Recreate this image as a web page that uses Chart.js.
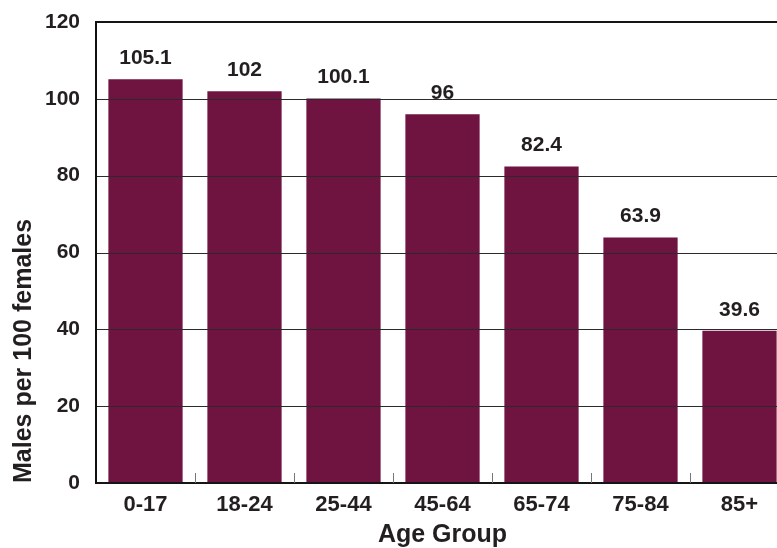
<!DOCTYPE html>
<html>
<head>
<meta charset="utf-8">
<script src="https://cdn.jsdelivr.net/npm/chart.js@4/dist/chart.umd.min.js"></script>
<style>
  html, body { margin: 0; padding: 0; background: #fff; overflow: hidden; }
  #wrap { width: 777px; height: 548px; overflow: hidden; }
</style>
</head>
<body>
<div id="wrap"><canvas id="c" width="789" height="548"></canvas></div>
<script>
const categories = ['0-17', '18-24', '25-44', '45-64', '65-74', '75-84', '85+'];
const malesPer100Females = [105.1, 102, 100.1, 96, 82.4, 63.9, 39.6];
const yTicks = [0, 20, 40, 60, 80, 100, 120];
const xTitle = 'Age Group';
const yTitle = 'Males per 100 females';

const FONT = '"Liberation Sans", Arial, Helvetica, sans-serif';

const overlay = {
  id: 'overlay',
  afterDatasetsDraw(chart) {
    const ctx = chart.ctx;
    const area = chart.chartArea;
    const ys = chart.scales.y;
    const xs = chart.scales.x;
    ctx.save();
    // gridlines over the bars
    yTicks.forEach(v => {
      const y = Math.round(ys.getPixelForValue(v));
      ctx.beginPath();
      if (v === 120 || v === 0) {
        ctx.lineWidth = 2;
        ctx.strokeStyle = '#151515';
        ctx.moveTo(area.left, y);
        ctx.lineTo(area.right, y);
      } else {
        ctx.lineWidth = 1;
        ctx.strokeStyle = '#2a2a2a';
        ctx.moveTo(area.left, y + 0.5);
        ctx.lineTo(area.right, y + 0.5);
      }
      ctx.stroke();
    });
    // left axis line
    ctx.beginPath();
    ctx.lineWidth = 2;
    ctx.strokeStyle = '#111';
    ctx.moveTo(area.left, area.top - 1);
    ctx.lineTo(area.left, area.bottom + 1);
    ctx.stroke();
    // small inner tick marks between categories
    ctx.lineWidth = 1;
    ctx.strokeStyle = '#777';
    for (let i = 0; i < categories.length - 1; i++) {
      const x = Math.round((xs.getPixelForValue(i) + xs.getPixelForValue(i + 1)) / 2) + 0.5;
      ctx.beginPath();
      ctx.moveTo(x, area.bottom);
      ctx.lineTo(x, area.bottom - 10);
      ctx.stroke();
    }
    // value labels
    ctx.fillStyle = '#231f20';
    ctx.font = 'bold 21px ' + FONT;
    ctx.textAlign = 'center';
    ctx.textBaseline = 'middle';
    const meta = chart.getDatasetMeta(0);
    meta.data.forEach((bar, i) => {
      ctx.fillText(String(malesPer100Females[i]), bar.x, bar.y - 21);
    });
    ctx.restore();
  }
};

new Chart(document.getElementById('c'), {
  type: 'bar',
  data: {
    labels: categories,
    datasets: [{
      data: malesPer100Females,
      backgroundColor: '#6f1340',
      borderWidth: 0,
      barPercentage: 0.75,
      categoryPercentage: 1.0
    }]
  },
  options: {
    responsive: false,
    animation: false,
    devicePixelRatio: 1,
    layout: { padding: { top: 22, left: 0, right: 0, bottom: 0 } },
    plugins: { legend: { display: false }, tooltip: { enabled: false } },
    scales: {
      x: {
        grid: { display: false, drawTicks: false },
        border: { display: false },
        ticks: {
          color: '#231f20',
          font: { family: FONT, size: 22, weight: 'bold' },
          padding: 9,
          maxRotation: 0
        },
        title: {
          display: true,
          text: xTitle,
          color: '#231f20',
          font: { family: FONT, size: 25, weight: 'bold', lineHeight: 1 },
          padding: { top: 0, bottom: 0 }
        },
        afterFit(scale) {
          scale.height = 65;
          scale.paddingLeft = 0;
          scale.paddingRight = 0;
        }
      },
      y: {
        min: 0,
        max: 120,
        afterBuildTicks(scale) { scale.ticks = yTicks.map(v => ({ value: v })); },
        grid: { display: false, drawTicks: false },
        border: { display: false },
        ticks: {
          color: '#231f20',
          font: { family: FONT, size: 21, weight: 'bold' },
          padding: 16
        },
        title: {
          display: true,
          text: yTitle,
          align: 'start',
          color: '#231f20',
          font: { family: FONT, size: 25, weight: 'bold', lineHeight: 1 },
          padding: { top: 12, bottom: 0 }
        },
        afterFit(scale) {
          scale.width = 96;
          scale.paddingTop = 0;
          scale.paddingBottom = 0;
        }
      }
    }
  },
  plugins: [overlay]
});
</script>
</body>
</html>
